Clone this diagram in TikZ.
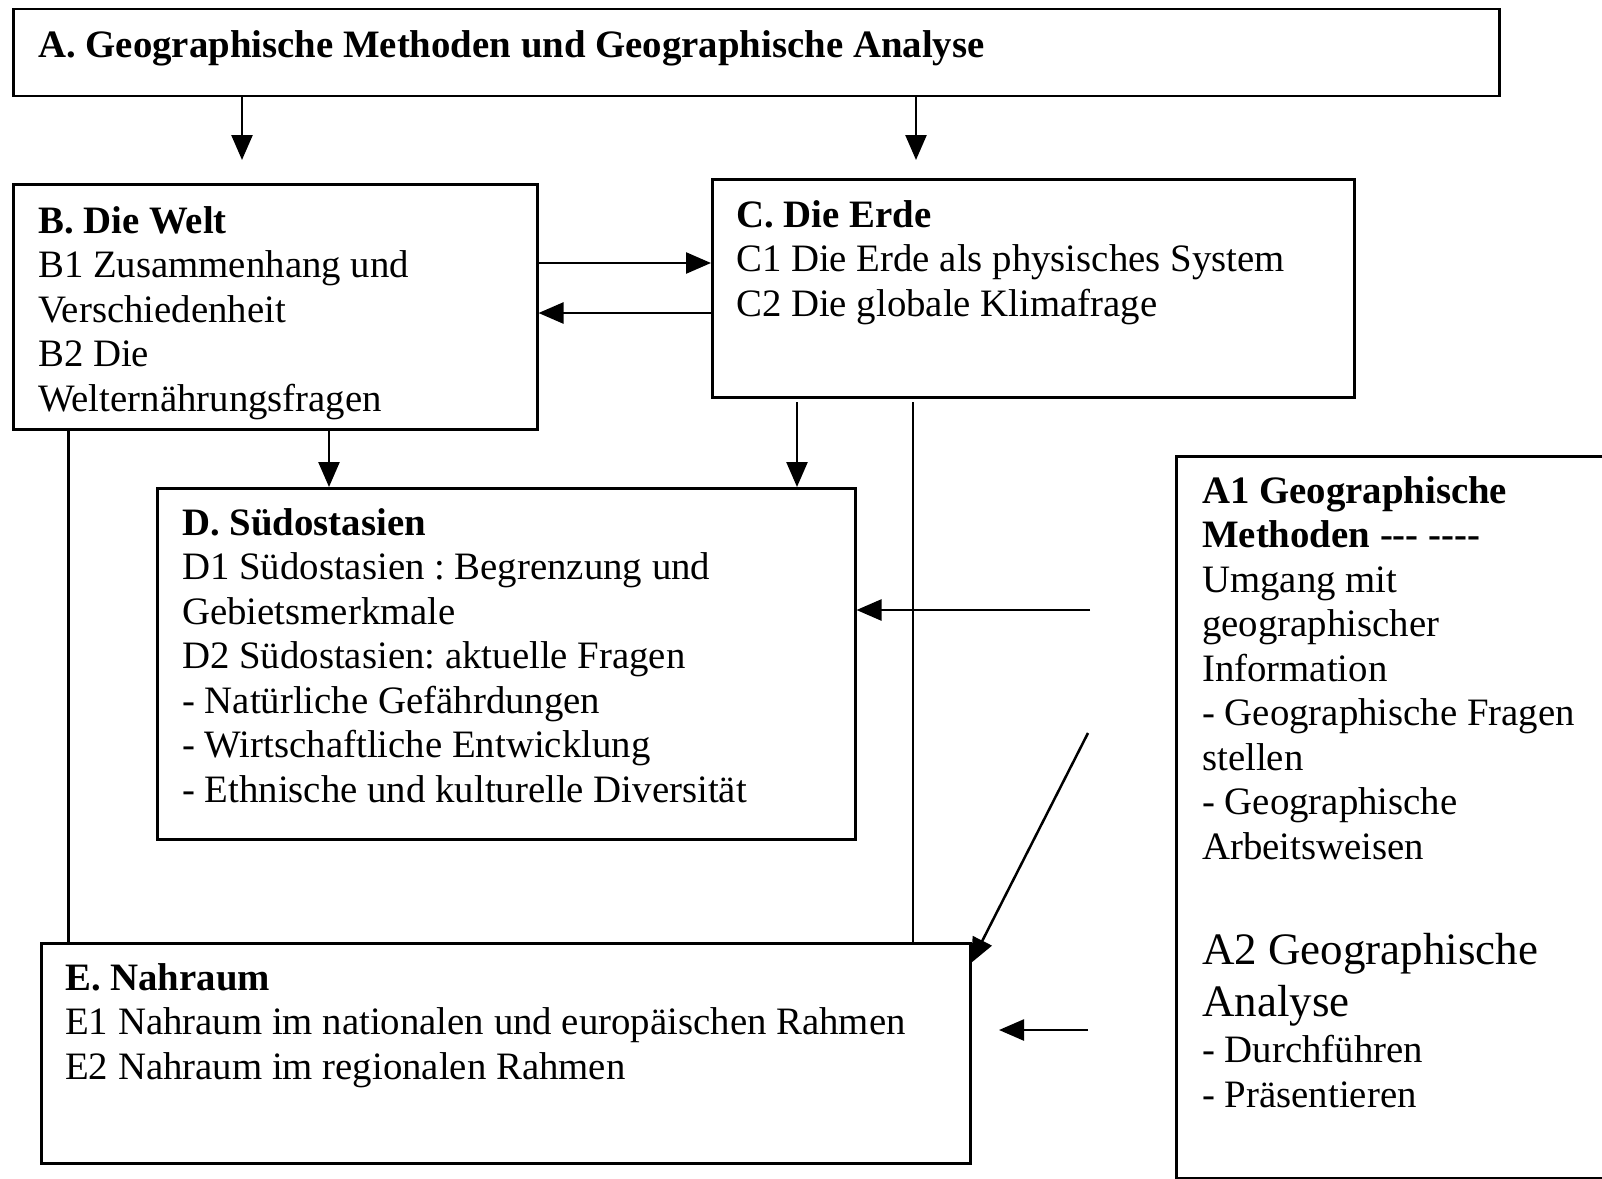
\documentclass[tikz,border=0pt]{standalone}
\usepackage{fontspec}
\setmainfont{Liberation Serif}
\usetikzlibrary{arrows.meta}
\begin{document}
\frenchspacing
\begin{tikzpicture}[x=1pt,y=-1pt,
  box/.style={draw, line width=2.5pt, inner sep=0pt, anchor=north west},
  txt/.style={anchor=north west, inner sep=0pt, align=left, font=\fontsize{38.8}{44.5}\selectfont\frenchspacing},
  bigtxt/.style={anchor=north west, inner sep=0pt, align=left, font=\fontsize{45}{52}\selectfont\frenchspacing},
  conn/.style={line width=2.5pt},
  arr/.style={conn, -{Triangle[length=25pt,width=21pt]}}]
\useasboundingbox[fill=white] (0,0) rectangle (1602,1178);

% boxes
\node[box, minimum width=1486pt, minimum height=87pt] (A) at (12,7.5) {};
\node[box, minimum width=524pt, minimum height=245pt] (B) at (12,183) {};
\node[box, minimum width=642pt, minimum height=218pt] (C) at (711,178) {};
\node[box, minimum width=698pt, minimum height=351pt] (D) at (156,487) {};
\node[box, minimum width=929pt, minimum height=220pt] (E) at (40,942) {};
\node[box, minimum width=470pt, minimum height=721.5pt] (A1) at (1175,455) {};

% texts
\node[txt, anchor=base west, font=\fontsize{38.8}{44.5}\selectfont\bfseries] (At) at (38,57)
  {A. Geographische Methoden und Geographische Analyse};
\node[txt] (Bt) at (38,201.85)
  {\strut\textbf{B. Die Welt}\\B1 Zusammenhang und\\Verschiedenheit\\B2 Die\\Welternährungsfragen};
\node[txt] (Ct) at (736,195.85)
  {\strut\textbf{C. Die Erde}\\C1 Die Erde als physisches System\\C2 Die globale Klimafrage};
\node[txt] (Dt) at (182,503.85)
  {\strut\textbf{D. Südostasien}\\D1 Südostasien : Begrenzung und\\Gebietsmerkmale\\D2 Südostasien: aktuelle Fragen\\- Natürliche Gefährdungen\\- Wirtschaftliche Entwicklung\\- Ethnische und kulturelle Diversität};
\node[txt] (Et) at (65,958.85)
  {\strut\textbf{E. Nahraum}\\E1 Nahraum im nationalen und europäischen Rahmen\\E2 Nahraum im regionalen Rahmen};
\node[txt] (A1t) at (1202,471.85)
  {\strut\textbf{A1 Geographische}\\\textbf{Methoden -{}-{}- -{}-{}-{}-}\\Umgang mit\\geographischer\\Information\\- Geographische Fragen\\stellen\\- Geographische\\Arbeitsweisen};
\node[bigtxt] (A2t) at (1202,927.6)
  {\strut A2 Geographische\\Analyse};
\node[txt] (A2l) at (1202,1031.35)
  {\strut- Durchführen\\- Präsentieren};

% helper coordinates
\coordinate (tB) at (242,160);
\coordinate (tC) at (916,160);
\coordinate (y1) at (0,263);
\coordinate (y2) at (0,313);
\coordinate (xbd) at (329,0);
\coordinate (cd) at (797,402);
\coordinate (ce) at (913,402);
\coordinate (xbe) at (68.5,0);
\coordinate (ad) at (1090,610);
\coordinate (ae0) at (1088,733);
\coordinate (ae1) at (971,963);
\coordinate (af0) at (1088,1030);
\coordinate (af1) at (999,1030);

% connectors
\draw[arr] (A.south -| tB) -- (tB);
\draw[arr] (A.south -| tC) -- (tC);
\draw[arr] (B.east |- y1) -- (C.west |- y1);
\draw[arr] (C.west |- y2) -- (B.east |- y2);
\draw[arr] (B.south -| xbd) -- (D.north -| xbd);
\draw[arr] (cd) -- (D.north -| cd);
\draw[conn] (ce) -- (E.north -| ce);
\draw[conn] (B.south -| xbe) -- (E.north -| xbe);
\draw[arr] (ad) -- (D.east |- ad);
\draw[arr] (ae0) -- (ae1);
\draw[arr] (af0) -- (af1);
\end{tikzpicture}
\end{document}
